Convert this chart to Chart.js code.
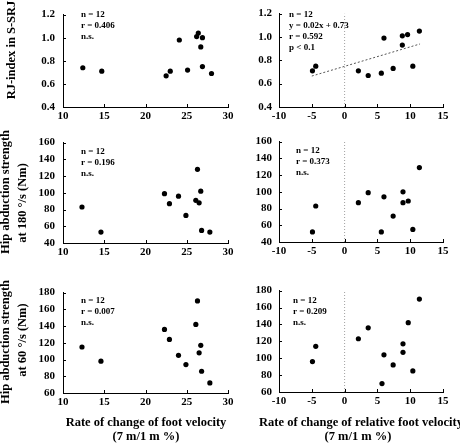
<!DOCTYPE html>
<html>
<head>
<meta charset="utf-8">
<script src="https://cdn.jsdelivr.net/npm/chart.js@4.4.0/dist/chart.umd.min.js"></script>
<style>
  body { margin: 0; width: 460px; height: 443px; background: #fff; position: relative; overflow: hidden; font-family: "Liberation Serif", "Times New Roman", serif; }
  canvas { position: absolute; }
  .t { position: absolute; font-weight: bold; font-size: 12.5px; line-height: 1; white-space: nowrap; color: #000; }
  .yt { transform: translate(-50%, -50%) rotate(-90deg); }
  .xt { transform: translate(-50%, -50%); }
</style>
</head>
<body>
<canvas id="c1"></canvas>
<canvas id="c2"></canvas>
<canvas id="c3"></canvas>
<canvas id="c4"></canvas>
<canvas id="c5"></canvas>
<canvas id="c6"></canvas>

<div class="t yt" style="left:11px;top:50px">RJ-index in S-SRJ</div>
<div class="t yt" style="left:5px;top:192px">Hip abduction strength</div>
<div class="t yt" style="left:22px;top:203px">at 180 °/s (Nm)</div>
<div class="t yt" style="left:5px;top:342px">Hip abduction strength</div>
<div class="t yt" style="left:22px;top:340px">at 60 °/s (Nm)</div>
<div class="t xt" style="left:146px;top:422px">Rate of change of foot velocity</div>
<div class="t xt" style="left:146px;top:436px">(7 m/1 m %)</div>
<div class="t xt" style="left:361px;top:422px">Rate of change of relative foot velocity</div>
<div class="t xt" style="left:358px;top:436px">(7 m/1 m %)</div>

<script>
// tick values
const footTicks = [10, 15, 20, 25, 30];
const relTicks = [-10, -5, 0, 5, 10, 15];
const rjTicks = [0.4, 0.6, 0.8, 1.0, 1.2];
const hip180Ticks = [40, 60, 80, 100, 120, 140, 160];
const hip60Ticks = [60, 80, 100, 120, 140, 160, 180];

// RJ-index vs foot velocity / relative foot velocity
const rjFootX = [12.4, 14.7, 22.5, 23.0, 24.1, 25.1, 26.2, 26.4, 26.9, 26.7, 26.9, 28.0];
const rjFootY = [0.74, 0.71, 0.67, 0.71, 0.98, 0.72, 1.01, 1.04, 1.0, 0.92, 0.75, 0.69];
const rjRelX = [-4.9, -4.4, 2.1, 3.6, 5.6, 6.0, 7.4, 8.8, 8.8, 9.6, 10.4, 11.4];
const rjRelY = [0.71, 0.75, 0.71, 0.67, 0.69, 0.99, 0.73, 1.01, 0.93, 1.02, 0.75, 1.05];
// dashed regression line (y = 0.02x + 0.73)
const trendX = [-5, 11.5];
const trendY = [0.665, 0.94];

// hip abduction at 180 deg/s
const h180FootX = [12.3, 14.6, 22.3, 22.9, 24.0, 24.9, 26.1, 26.3, 26.5, 26.7, 26.8, 27.8];
const h180FootY = [83, 53, 99, 87, 96, 73, 91, 128, 88, 102, 55, 53];
const h180RelX = [-4.9, -4.4, 2.1, 3.6, 5.6, 6.0, 7.4, 8.9, 8.9, 9.7, 10.4, 11.4];
const h180RelY = [52, 83, 87, 99, 52, 94, 71, 100, 87, 89, 55, 129];

// hip abduction at 60 deg/s
const h60FootX = [12.3, 14.6, 22.3, 22.9, 24.0, 24.9, 26.1, 26.3, 26.5, 26.7, 26.8, 27.8];
const h60FootY = [115, 98, 136, 124, 105, 94, 142, 170, 108, 117, 86, 72];
const h60RelX = [-4.9, -4.4, 2.1, 3.6, 5.7, 6.0, 7.4, 8.9, 8.9, 9.7, 10.4, 11.4];
const h60RelY = [96, 114, 123, 136, 70, 104, 92, 117, 107, 142, 85, 170];

// statistics text
const rjFootNotes = ["n = 12", "r = 0.406", "n.s."];
const rjRelNotes = ["n = 12", "y = 0.02x + 0.73", "r = 0.592", "p < 0.1"];
const h180FootNotes = ["n = 12", "r = 0.196", "n.s."];
const h180RelNotes = ["n = 12", "r = 0.373", "n.s."];
const h60FootNotes = ["n = 12", "r = 0.007", "n.s."];
const h60RelNotes = ["n = 12", "r = 0.209", "n.s."];

Chart.defaults.font.family = "'Liberation Serif', 'Times New Roman', serif";
Chart.defaults.font.weight = "bold";
Chart.defaults.color = "#000";

// stats text inside plot area
const notePlugin = {
  id: "notes",
  afterDraw(chart, args, opts) {
    const { ctx, chartArea } = chart;
    ctx.save();
    ctx.font = "bold 9px 'Liberation Serif'";
    ctx.fillStyle = "#000";
    ctx.textBaseline = "middle";
    opts.lines.forEach((t, i) => {
      ctx.fillText(t, chartArea.left + opts.dx, chartArea.top + opts.dy + i * 11);
    });
    ctx.restore();
  },
};

// tiny inward tick marks
const tickPlugin = {
  id: "innerTicks",
  afterDraw(chart) {
    const { ctx, chartArea, scales } = chart;
    ctx.save();
    ctx.strokeStyle = "#000";
    ctx.lineWidth = 1;
    ctx.beginPath();
    scales.y.ticks.forEach((t) => {
      const py = Math.round(scales.y.getPixelForValue(t.value)) + 0.5;
      ctx.moveTo(chartArea.left, py);
      ctx.lineTo(chartArea.left + 3, py);
    });
    scales.x.ticks.forEach((t) => {
      const px = Math.round(scales.x.getPixelForValue(t.value)) + 0.5;
      ctx.moveTo(px, chartArea.bottom);
      ctx.lineTo(px, chartArea.bottom - 3);
    });
    ctx.stroke();
    ctx.restore();
  },
};

const pts = (xs, ys) => xs.map((x, i) => ({ x: x, y: ys[i] }));

function makeChart(p) {
  const canvas = document.getElementById(p.id);
  canvas.style.left = p.left + "px";
  canvas.style.top = p.top + "px";
  canvas.width = p.w;
  canvas.height = p.h;

  const datasets = [
    { data: pts(p.xs, p.ys), pointRadius: 2.6, backgroundColor: "#000", borderWidth: 0 },
  ];
  if (p.trend) {
    datasets.push({
      data: pts(trendX, trendY),
      showLine: true,
      borderColor: "#555",
      borderWidth: 1,
      borderDash: [2, 2],
      pointRadius: 0,
    });
  }
  if (p.zero) {
    datasets.push({
      data: [
        { x: 0, y: p.yTicks[0] },
        { x: 0, y: p.yTicks[p.yTicks.length - 1] },
      ],
      showLine: true,
      borderColor: "#a0a0a0",
      borderWidth: 1,
      borderDash: [1, 2],
      pointRadius: 0,
    });
  }

  new Chart(canvas, {
    type: "scatter",
    data: { datasets },
    options: {
      responsive: false,
      animation: false,
      events: [],
      devicePixelRatio: 1,
      layout: { padding: { top: 13, right: p.padRight, bottom: 0, left: 0 } },
      plugins: {
        legend: { display: false },
        tooltip: { enabled: false },
        notes: { lines: p.notes, dx: p.noteDx, dy: p.noteDy },
      },
      scales: {
        x: {
          type: "linear",
          min: p.xTicks[0],
          max: p.xTicks[p.xTicks.length - 1],
          grid: { display: false, drawTicks: false },
          border: { color: "#000", width: 1 },
          ticks: { font: { size: 11, weight: "bold" }, color: "#000", padding: 3, maxRotation: 0 },
          afterBuildTicks: (s) => {
            s.ticks = p.xTicks.map((v) => ({ value: v }));
          },
          afterFit: (s) => {
            s.height = 22;
          },
        },
        y: {
          type: "linear",
          min: p.yTicks[0],
          max: p.yTicks[p.yTicks.length - 1],
          grid: { display: false, drawTicks: false },
          border: { color: "#000", width: 1 },
          ticks: {
            font: { size: 11, weight: "bold" },
            color: "#000",
            padding: p.yPad,
            callback: (v) => v.toFixed(p.dec),
          },
          afterBuildTicks: (s) => {
            s.ticks = p.yTicks.map((v) => ({ value: v }));
          },
          afterFit: (s) => {
            s.width = p.yWidth;
          },
        },
      },
    },
    plugins: [notePlugin, tickPlugin],
  });
}

window.addEventListener("load", function () {
  const left = { left: 0, w: 240, padRight: 12, yWidth: 63, yPad: 8, xTicks: footTicks, noteDx: 18 };
  const right = { left: 230, w: 230, padRight: 17, yWidth: 49, yPad: 7, xTicks: relTicks, zero: true };

  makeChart({ ...left, id: "c1", top: 0, h: 129, xs: rjFootX, ys: rjFootY, yTicks: rjTicks, dec: 1, notes: rjFootNotes, noteDy: 0 });
  makeChart({ ...right, id: "c2", top: 0, h: 129, xs: rjRelX, ys: rjRelY, yTicks: rjTicks, dec: 1, notes: rjRelNotes, noteDx: 10, noteDy: 1, trend: true });
  makeChart({ ...left, id: "c3", top: 128, h: 137, xs: h180FootX, ys: h180FootY, yTicks: hip180Ticks, dec: 0, notes: h180FootNotes, noteDy: 9 });
  makeChart({ ...right, id: "c4", top: 128, h: 136, xs: h180RelX, ys: h180RelY, yTicks: hip180Ticks, dec: 0, notes: h180RelNotes, noteDx: 17, noteDy: 9 });
  makeChart({ ...left, id: "c5", top: 278, h: 137, xs: h60FootX, ys: h60FootY, yTicks: hip60Ticks, dec: 0, notes: h60FootNotes, noteDy: 8 });
  makeChart({ ...right, id: "c6", top: 277, h: 137, xs: h60RelX, ys: h60RelY, yTicks: hip60Ticks, dec: 0, notes: h60RelNotes, noteDx: 14, noteDy: 10 });
});
</script>
</body>
</html>
